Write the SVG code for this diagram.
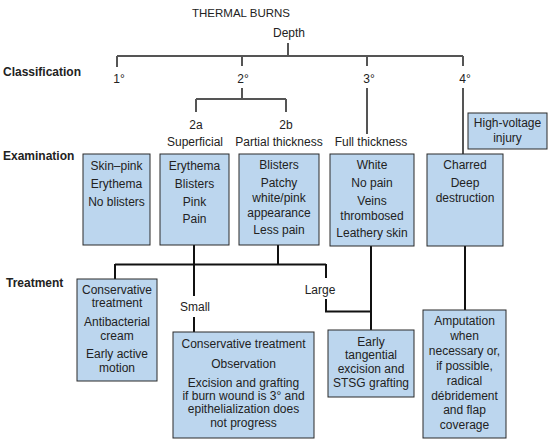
<svg xmlns="http://www.w3.org/2000/svg" width="555" height="442" viewBox="0 0 555 442">
<style>
text{font-family:"Liberation Sans",Arial,sans-serif;font-size:12px;fill:#222}
.c{text-anchor:middle}
.h{font-weight:bold;fill:#222}
.box{fill:#bcd6ee;stroke:#2a2a2a;stroke-width:1}
.tl{fill:none;stroke:#555;stroke-width:2}
.bl{fill:none;stroke:#111;stroke-width:2}
</style>
<rect width="555" height="442" fill="#fff"/>
<g id="labels">
<text x="241" y="17" class="c" style="font-size:11.5px">THERMAL BURNS</text>
<text x="289" y="37" class="c">Depth</text>
<text x="3" y="76" class="h">Classification</text>
<text x="3" y="160" class="h">Examination</text>
<text x="6" y="287" class="h">Treatment</text>
<text x="119" y="83" class="c">1°</text>
<text x="243" y="83" class="c">2°</text>
<text x="369" y="83" class="c">3°</text>
<text x="465" y="83" class="c">4°</text>
<text x="196" y="129" class="c">2a</text>
<text x="286" y="129" class="c">2b</text>
<text x="195" y="146" class="c">Superficial</text>
<text x="279" y="146" class="c">Partial thickness</text>
<text x="371" y="146" class="c">Full thickness</text>
<text x="195" y="311" class="c">Small</text>
<text x="320" y="294" class="c">Large</text>
</g>
<g id="connectors">
<path class="tl" d="M288 43V56M117 56H463M117 56V67M242 56V66M367 56V66M463 56V66"/>
<path class="tl" d="M242 88V99M196 99H286M196 99V112M286 99V112"/>
<path class="tl" d="M367 88V134M463 88V154"/>
<path class="bl" d="M194 245V296M194 317V332M115 264.5H326M278 245V264.5M115 264V279M326 264V278M326 299V311.5H371M371 246V330M465 246V310"/>
</g>
<g id="high-voltage">
<rect class="box" x="468" y="113" width="79" height="36"/>
<text x="507.5" y="127" class="c">High-voltage</text>
<text x="507.5" y="142" class="c">injury</text>
</g>
<g id="exam-1">
<rect class="box" x="83" y="154" width="67" height="91"/>
<text x="116.5" y="170" class="c">Skin–pink</text>
<text x="116.5" y="188" class="c">Erythema</text>
<text x="116.5" y="206" class="c">No blisters</text>
</g>
<g id="exam-2a">
<rect class="box" x="160" y="154" width="69" height="91"/>
<text x="194.5" y="170" class="c">Erythema</text>
<text x="194.5" y="188" class="c">Blisters</text>
<text x="194.5" y="206" class="c">Pink</text>
<text x="194.5" y="223" class="c">Pain</text>
</g>
<g id="exam-2b">
<rect class="box" x="239" y="154" width="80" height="91"/>
<text x="279" y="169" class="c">Blisters</text>
<text x="279" y="187" class="c">Patchy</text>
<text x="279" y="202" class="c">white/pink</text>
<text x="279" y="217" class="c">appearance</text>
<text x="279" y="234" class="c">Less pain</text>
</g>
<g id="exam-3">
<rect class="box" x="330" y="154" width="84" height="92"/>
<text x="372" y="169" class="c">White</text>
<text x="372" y="187" class="c">No pain</text>
<text x="372" y="205" class="c">Veins</text>
<text x="372" y="220" class="c">thrombosed</text>
<text x="372" y="237" class="c">Leathery skin</text>
</g>
<g id="exam-4">
<rect class="box" x="427" y="154" width="76" height="92"/>
<text x="465" y="169" class="c">Charred</text>
<text x="465" y="187" class="c">Deep</text>
<text x="465" y="202" class="c">destruction</text>
</g>
<g id="treat-1">
<rect class="box" x="77" y="279" width="80" height="102"/>
<text x="117" y="294" class="c">Conservative</text>
<text x="117" y="307" class="c">treatment</text>
<text x="117" y="326" class="c">Antibacterial</text>
<text x="117" y="340" class="c">cream</text>
<text x="117" y="358" class="c">Early active</text>
<text x="117" y="372" class="c">motion</text>
</g>
<g id="treat-small">
<rect class="box" x="173" y="332" width="141" height="106"/>
<text x="243.5" y="348" class="c">Conservative treatment</text>
<text x="243.5" y="368" class="c">Observation</text>
<text x="243.5" y="387" class="c">Excision and grafting</text>
<text x="243.5" y="400" class="c">if burn wound is 3° and</text>
<text x="243.5" y="413" class="c">epithelialization does</text>
<text x="243.5" y="427" class="c">not progress</text>
</g>
<g id="treat-large">
<rect class="box" x="328" y="330" width="86" height="67"/>
<text x="371" y="346" class="c">Early</text>
<text x="371" y="359" class="c">tangential</text>
<text x="371" y="373" class="c">excision and</text>
<text x="371" y="387" class="c">STSG grafting</text>
</g>
<g id="treat-4">
<rect class="box" x="423" y="310" width="83" height="128"/>
<text x="464.5" y="325" class="c">Amputation</text>
<text x="464.5" y="340" class="c">when</text>
<text x="464.5" y="355" class="c">necessary or,</text>
<text x="464.5" y="370" class="c">if possible,</text>
<text x="464.5" y="385" class="c">radical</text>
<text x="464.5" y="400" class="c">débridement</text>
<text x="464.5" y="414" class="c">and flap</text>
<text x="464.5" y="429" class="c">coverage</text>
</g>
</svg>
